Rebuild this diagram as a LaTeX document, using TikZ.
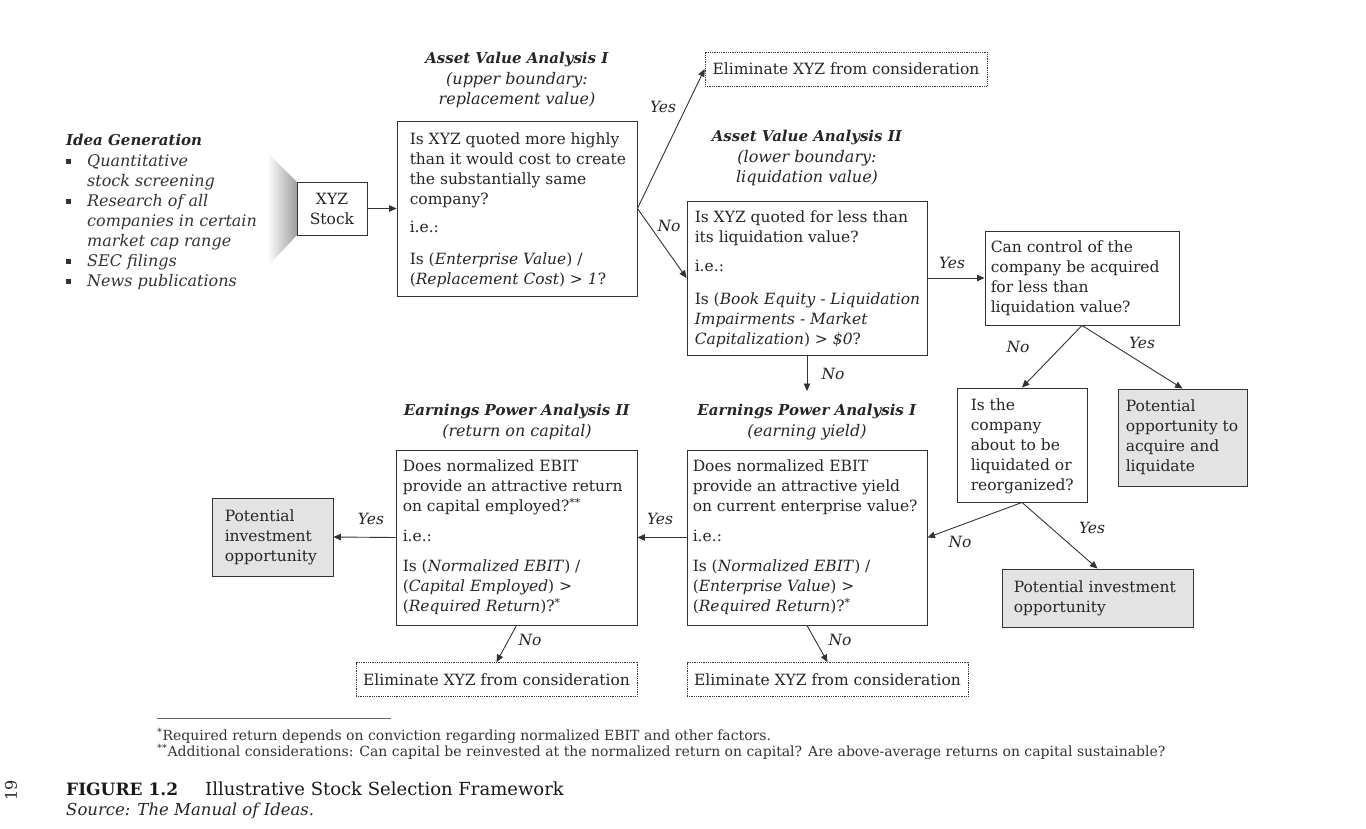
\documentclass[tikz,border=0pt]{standalone}
\usepackage{fontspec}
\setmainfont{DejaVu Serif}
\usetikzlibrary{arrows.meta}
\newcommand\bodyfnt{\fontsize{15.5}{20}\selectfont}
\newcommand\bul{\makebox[21pt][l]{\raisebox{2.5pt}{\rule{4.5pt}{4.5pt}}}}
\begin{document}
\begin{tikzpicture}[x=1pt,y=-1pt,
  ln/.style={draw=black!80, line width=0.9pt},
  arr/.style={ln, -{Triangle[length=7.5pt,width=6.5pt]}},
  qbox/.style={draw=black!80, line width=0.9pt, inner sep=0pt},
  grey/.style={qbox, fill=black!11},
  txt/.style={anchor=west, align=left, inner sep=0pt, font=\bodyfnt, text=black!85},
  elim/.style={draw=black!80, line width=0.8pt, densely dotted, minimum width=#1, minimum height=34, inner sep=0pt, font=\bodyfnt, text=black!85},
  ttl/.style={align=center, font=\fontsize{16}{20.5}\selectfont, text=black!85},
  lbl/.style={font=\bodyfnt\itshape, text=black!85, inner sep=1pt}
]
\useasboundingbox (0,0) rectangle (1366,828);

% Idea generation
\node[anchor=west, font=\fontsize{15}{20}\selectfont, text=black!85, inner sep=0] (ideat) at (66,140) {\textbf{\textit{Idea Generation}}};
\node[anchor=north west, align=left, font=\fontsize{16}{20}\selectfont\itshape, text=black!80, inner sep=0] (idea) at (66,154)
 {\bul Quantitative\\ \hspace*{21pt}stock screening\\ \bul Research of all\\ \hspace*{21pt}companies in certain\\ \hspace*{21pt}market cap range\\ \bul SEC filings\\ \bul News publications};
\shade[left color=white, right color=black!38] (267,152) -- (297,182) -- (297,235) -- (267,267) -- cycle;

\node[qbox, minimum width=70, minimum height=53, align=center, font=\bodyfnt, text=black!85] (xyz) at (332,208.5) {XYZ\\Stock};

% titles
\node[ttl] (t1) at (517,80) {{\fontsize{15}{20.5}\selectfont\textbf{\textit{Asset Value Analysis I}}}\\ \textit{(upper boundary:}\\ \textit{replacement value)}};
\node[ttl] (t2) at (807,158) {{\fontsize{15}{20.5}\selectfont\textbf{\textit{Asset Value Analysis II}}}\\ \textit{(lower boundary:}\\ \textit{liquidation value)}};
\node[ttl] (t3) at (807,422) {{\fontsize{15}{20.5}\selectfont\textbf{\textit{Earnings Power Analysis I}}}\\ \textit{(earning yield)}};
\node[ttl] (t4) at (517,422) {{\fontsize{15}{20.5}\selectfont\textbf{\textit{Earnings Power Analysis II}}}\\ \textit{(return on capital)}};

% question boxes
\node[qbox, minimum width=240, minimum height=175] (ava1) at (517,208.5) {};
\node[txt, xshift=13pt, yshift=-2pt] (ava1t) at (ava1.west)
 {Is XYZ quoted more highly\\ than it would cost to create\\ the substantially same\\ company?\\[8pt] i.e.:\\[12pt] Is (\textit{Enterprise Value}) /\\ (\textit{Replacement Cost}) > \textit{1}?};
\node[qbox, minimum width=240, minimum height=154] (ava2) at (807,278) {};
\node[txt, xshift=8pt, yshift=-1pt] (ava2t) at (ava2.west)
 {Is XYZ quoted for less than\\ its liquidation value?\\[9pt] i.e.:\\[13pt] Is (\textit{Book Equity - Liquidation}\\ \textit{Impairments - Market}\\ \textit{Capitalization}) > \textit{\$0}?};
\node[qbox, minimum width=194, minimum height=94] (ctrl) at (1082,278) {};
\node[txt, xshift=6pt] (ctrlt) at (ctrl.west)
 {Can control of the\\ company be acquired\\ for less than\\ liquidation value?};
\node[qbox, minimum width=130, minimum height=114] (liq) at (1022,445) {};
\node[txt, xshift=14pt, yshift=-1pt] (liqt) at (liq.west)
 {Is the\\ company\\ about to be\\ liquidated or\\ reorganized?};
\node[grey, minimum width=129, minimum height=97] (acq) at (1182.5,437.5) {};
\node[txt, xshift=8pt] (acqt) at (acq.west)
 {Potential\\ opportunity to\\ acquire and\\ liquidate};
\node[grey, minimum width=191, minimum height=58] (potr) at (1097.5,598) {};
\node[txt, xshift=12pt] (potrt) at (potr.west)
 {Potential investment\\ opportunity};
\node[qbox, minimum width=240, minimum height=175] (epa1) at (807,537.5) {};
\node[txt, xshift=6pt] (epa1t) at (epa1.west)
 {Does normalized EBIT\\ provide an attractive yield\\ on current enterprise value?\\[10pt] i.e.:\\[10pt] Is (\textit{Normalized EBIT}) /\\ (\textit{Enterprise Value}) >\\ (\textit{Required Return})?\textsuperscript{*}};
\node[qbox, minimum width=241, minimum height=175] (epa2) at (516.5,537.5) {};
\node[txt, xshift=7pt] (epa2t) at (epa2.west)
 {Does normalized EBIT\\ provide an attractive return\\ on capital employed?\textsuperscript{**}\\[10pt] i.e.:\\[10pt] Is (\textit{Normalized EBIT}) /\\ (\textit{Capital Employed}) >\\ (\textit{Required Return})?\textsuperscript{*}};
\node[grey, minimum width=121, minimum height=78] (potl) at (272.5,537) {};
\node[txt, xshift=13pt] (potlt) at (potl.west)
 {Potential\\ investment\\ opportunity};

% eliminate boxes
\node[elim=282] (elimt) at (846,69) {Eliminate XYZ from consideration};
\node[elim=281] (elimbl) at (496.5,679.5) {Eliminate XYZ from consideration};
\node[elim=281] (elimbm) at (827.5,679.5) {Eliminate XYZ from consideration};

% connectors
\coordinate (noend) at (807,391);
\draw[arr] (xyz.east) -- (ava1.west);
\draw[arr] (ava1.east) -- (elimt.west);
\draw[arr] (ava1.east) -- (ava2.west);
\draw[arr] (ava2.east) -- (ctrl.west);
\draw[arr] (ava2.south) -- (noend);
\draw[arr] (ctrl.south) -- (liq.north);
\draw[arr] (ctrl.south) -- (acq.north);
\draw[arr] (liq.south) -- (epa1.east);
\draw[arr] (liq.south) -- (potr.north);
\draw[arr] (epa1.west) -- (epa2.east);
\draw[arr] (epa2.west) -- (potl.east);
\draw[arr] (epa1.south) -- (elimbm.north);
\draw[arr] (epa2.south) -- (elimbl.north);

% labels
\node[lbl] (l1) at (663,107) {Yes};
\node[lbl] (l2) at (669,226) {No};
\node[lbl] (l3) at (952,263) {Yes};
\node[lbl] (l4) at (833,374) {No};
\node[lbl] (l5) at (1018,347) {No};
\node[lbl] (l6) at (1142,343) {Yes};
\node[lbl] (l7) at (960,542) {No};
\node[lbl] (l8) at (1092,528) {Yes};
\node[lbl] (l9) at (660,519) {Yes};
\node[lbl] (l10) at (371,519) {Yes};
\node[lbl] (l11) at (840,640) {No};
\node[lbl] (l12) at (530,640) {No};

% footnotes
\draw[black!60, line width=0.8pt] (157,718) -- (391,718);
\node[anchor=west, inner sep=0, font=\fontsize{14}{15}\selectfont, text=black!80] (fn1) at (157,736) {\textsuperscript{*}Required return depends on conviction regarding normalized EBIT and other factors.};
\node[anchor=west, inner sep=0, font=\fontsize{14}{15}\selectfont, text=black!80] (fn2) at (157,752) {\textsuperscript{**}Additional considerations: Can capital be reinvested at the normalized return on capital? Are above-average returns on capital sustainable?};

% caption
\node[rotate=90, inner sep=0, font=\fontsize{16}{18}\selectfont, text=black!85] (pg) at (11,790) {19};
\node[anchor=west, inner sep=0, font=\fontsize{17}{20}\selectfont\bfseries, text=black!90] (cap) at (66,789) {FIGURE 1.2};
\node[anchor=west, inner sep=0, font=\fontsize{18}{20}\selectfont, text=black!90] (capt) at (205,789) {Illustrative Stock Selection Framework};
\node[anchor=west, inner sep=0, font=\fontsize{16.5}{18}\selectfont\itshape, text=black!85] (src) at (66,811) {Source: The Manual of Ideas.};
\end{tikzpicture}
\end{document}
